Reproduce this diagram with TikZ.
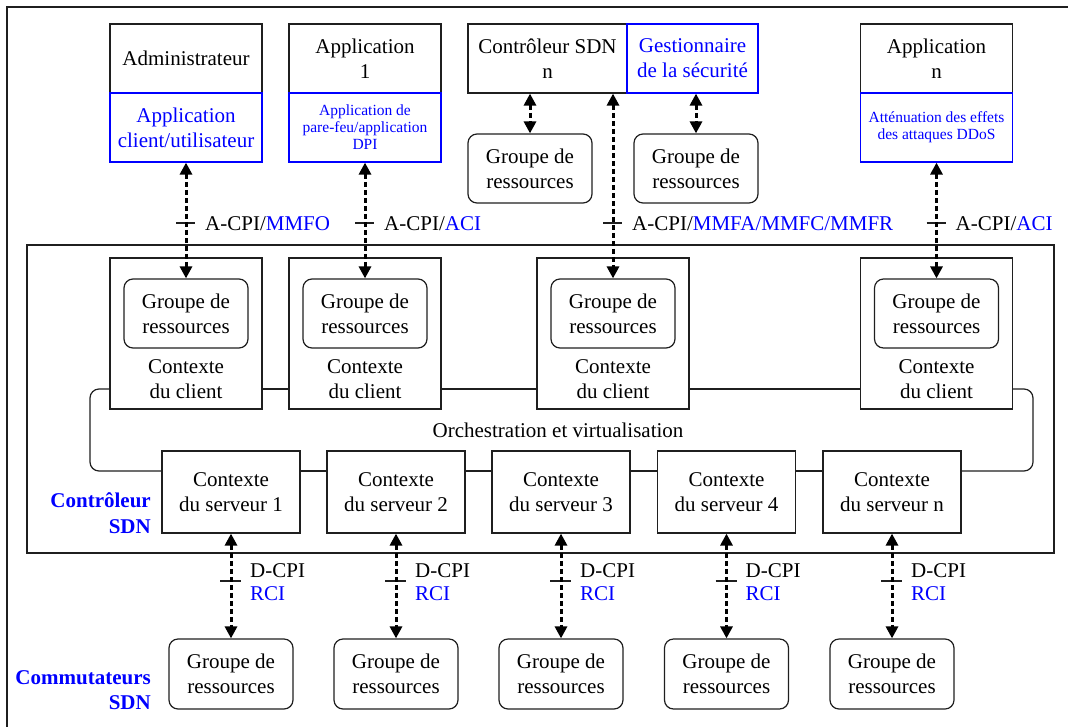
\documentclass[tikz,border=0pt]{standalone}
\usepackage{fontspec}
\setmainfont{Liberation Serif}
\usetikzlibrary{arrows.meta}
\definecolor{lineblack}{gray}{0.12}
\definecolor{bluetext}{RGB}{0,0,255}

\begin{document}
\begin{tikzpicture}[x=1pt,y=-1pt,
  every node/.style={font=\fontsize{21}{25}\selectfont, inner sep=0pt},
  box/.style={draw=lineblack, line width=1.2pt, align=center},
  bluebox/.style={draw=bluetext, line width=1.2pt, align=center, text=bluetext},
  topbox/.style={minimum width=152pt, minimum height=69pt},
  grp/.style={box, rounded corners=9pt, minimum width=124pt, minimum height=69pt},
  ctxbox/.style={box, minimum width=152pt, minimum height=151pt},
  srvbox/.style={box, minimum width=138pt, minimum height=82pt},
  link/.style={line width=3pt, dash pattern=on 5pt off 3pt, draw=black,
    arrows={Triangle[length=12pt,width=12pt]-Triangle[length=12pt,width=12pt]}},
  tickmark/.style={line width=1.2pt, draw=lineblack},
  wire/.style={line width=1.2pt, draw=lineblack, rounded corners=9pt},
  lbl/.style={anchor=base west},
  sidelabel/.style={anchor=base east, text=bluetext, font=\fontsize{21}{25}\selectfont\bfseries},
  small/.style={font=\fontsize{15.5}{17}\selectfont}
]
\useasboundingbox (0,0) rectangle (1068,726);

% outer frame
\draw[line width=1.2pt, lineblack] (7,740) -- (7,7) -- (1080,7);

% reference heights
\coordinate (acpi) at (0,223);
\coordinate (acpibase) at (0,230);
\coordinate (dcpi) at (0,581);
\coordinate (dcpibase) at (0,577);
\coordinate (rcibase) at (0,600);
\coordinate (orchtop) at (0,389);
\coordinate (orchbot) at (0,471);
\coordinate (lbend) at (90,0);
\coordinate (rbend) at (1033,0);

% applications and SDN controller n
\node[box, topbox] (admin) at (186,58.5) {Administrateur};
\node[bluebox, topbox] (adminapp) at (186,127.5) {Application\\client/utilisateur};
\node[box, topbox] (app1) at (365,58.5) {Application\\1};
\node[bluebox, topbox, small] (app1fw) at (365,127.5) {Application de\\pare-feu/application\\DPI};
\node[box, minimum width=159pt, minimum height=69pt] (ctrl) at (547.5,58.5) {Contrôleur SDN\\n};
\node[bluebox, minimum width=131pt, minimum height=69pt] (gest) at (692.5,58.5) {Gestionnaire\\de la sécurité};
\node[box, topbox] (appn) at (936.5,58.5) {Application\\n};
\node[bluebox, topbox, small] (appnddos) at (936.5,127.5) {Atténuation des effets\\des attaques DDoS};

\node[grp] (res1) at (530,168.5) {Groupe de\\ressources};
\node[grp] (res2) at (696,168.5) {Groupe de\\ressources};

% SDN controller
\node[box, minimum width=1027pt, minimum height=308pt] (zone) at (540.5,399) {};

\node[ctxbox] (c1) at (186,333.5) {};
\node[ctxbox] (c2) at (365,333.5) {};
\node[ctxbox] (c3) at (613,333.5) {};
\node[ctxbox] (c4) at (936.5,333.5) {};

\node[grp] (cr1) at (186,313.5) {Groupe de\\ressources};
\node[grp] (cr2) at (365,313.5) {Groupe de\\ressources};
\node[grp] (cr3) at (613,313.5) {Groupe de\\ressources};
\node[grp] (cr4) at (936.5,313.5) {Groupe de\\ressources};

\node[align=center] (ct1) at (186,379.5) {Contexte\\du client};
\node[align=center] (ct2) at (365,379.5) {Contexte\\du client};
\node[align=center] (ct3) at (613,379.5) {Contexte\\du client};
\node[align=center] (ct4) at (936.5,379.5) {Contexte\\du client};

\node[srvbox] (s1) at (231,492) {Contexte\\du serveur 1};
\node[srvbox] (s2) at (396,492) {Contexte\\du serveur 2};
\node[srvbox] (s3) at (561,492) {Contexte\\du serveur 3};
\node[srvbox] (s4) at (726.5,492) {Contexte\\du serveur 4};
\node[srvbox] (sn) at (892,492) {Contexte\\du serveur n};

% orchestration and virtualisation loop
\draw[wire] (c1.west |- orchtop) -| (lbend |- orchbot) -- (s1.west |- orchbot);
\draw[wire] (c4.east |- orchtop) -| (rbend |- orchbot) -- (sn.east |- orchbot);
\draw[wire] (c1.east |- orchtop) -- (c2.west |- orchtop);
\draw[wire] (c2.east |- orchtop) -- (c3.west |- orchtop);
\draw[wire] (c3.east |- orchtop) -- (c4.west |- orchtop);
\draw[wire] (s1.east |- orchbot) -- (s2.west |- orchbot);
\draw[wire] (s2.east |- orchbot) -- (s3.west |- orchbot);
\draw[wire] (s3.east |- orchbot) -- (s4.west |- orchbot);
\draw[wire] (s4.east |- orchbot) -- (sn.west |- orchbot);
\node[anchor=base] (orch) at (558,437) {Orchestration et virtualisation};

% SDN switches
\node[grp, minimum height=70pt] (b1) at (231,674) {Groupe de\\ressources};
\node[grp, minimum height=70pt] (b2) at (396,674) {Groupe de\\ressources};
\node[grp, minimum height=70pt] (b3) at (561,674) {Groupe de\\ressources};
\node[grp, minimum height=70pt] (b4) at (726.5,674) {Groupe de\\ressources};
\node[grp, minimum height=70pt] (b5) at (892,674) {Groupe de\\ressources};

% side labels
\node[sidelabel] (zc1) at (151,507) {Contrôleur};
\node[sidelabel] (zc2) at (151,533) {SDN};
\node[sidelabel] (sw1) at (151,684) {Commutateurs};
\node[sidelabel] (sw2) at (151,709) {SDN};

% A-CPI reference points
\coordinate (k1) at (cr1.north |- acpi);
\coordinate (k2) at (cr2.north |- acpi);
\coordinate (k3) at (cr3.north |- acpi);
\coordinate (k4) at (cr4.north |- acpi);
\foreach \k in {k1,k2,k3,k4}
  \draw[tickmark] ([xshift=-10pt]\k) -- ([xshift=9pt]\k);

\node[lbl, xshift=19pt] (l1) at (cr1.north |- acpibase) {A-CPI/\textcolor{bluetext}{MMFO}};
\node[lbl, xshift=19pt] (l2) at (cr2.north |- acpibase) {A-CPI/\textcolor{bluetext}{ACI}};
\node[lbl, xshift=19pt] (l3) at (cr3.north |- acpibase) {A-CPI/\textcolor{bluetext}{MMFA/MMFC/MMFR}};
\node[lbl, xshift=19pt] (l4) at (cr4.north |- acpibase) {A-CPI/\textcolor{bluetext}{ACI}};

% D-CPI reference points and labels
\foreach \s/\b [count=\i] in {s1/b1,s2/b2,s3/b3,s4/b4,sn/b5}{
  \coordinate (d\i) at (\s.south |- dcpi);
  \draw[tickmark] ([xshift=-11pt]d\i) -- ([xshift=10pt]d\i);
  \node[lbl, xshift=19pt] (dl\i) at (\s.south |- dcpibase) {D-CPI};
  \node[lbl, xshift=19pt, text=bluetext] (rl\i) at (\s.south |- rcibase) {RCI};
}

% interfaces
\draw[link] (res1.north |- ctrl.south) -- (res1.north);
\draw[link] (res2.north |- gest.south) -- (res2.north);
\draw[link] (adminapp.south) -- (cr1.north);
\draw[link] (app1fw.south) -- (cr2.north);
\draw[link] (cr3.north |- ctrl.south) -- (cr3.north);
\draw[link] (appnddos.south) -- (cr4.north);
\draw[link] (s1.south) -- (b1.north);
\draw[link] (s2.south) -- (b2.north);
\draw[link] (s3.south) -- (b3.north);
\draw[link] (s4.south) -- (b4.north);
\draw[link] (sn.south) -- (b5.north);
\end{tikzpicture}
\end{document}
